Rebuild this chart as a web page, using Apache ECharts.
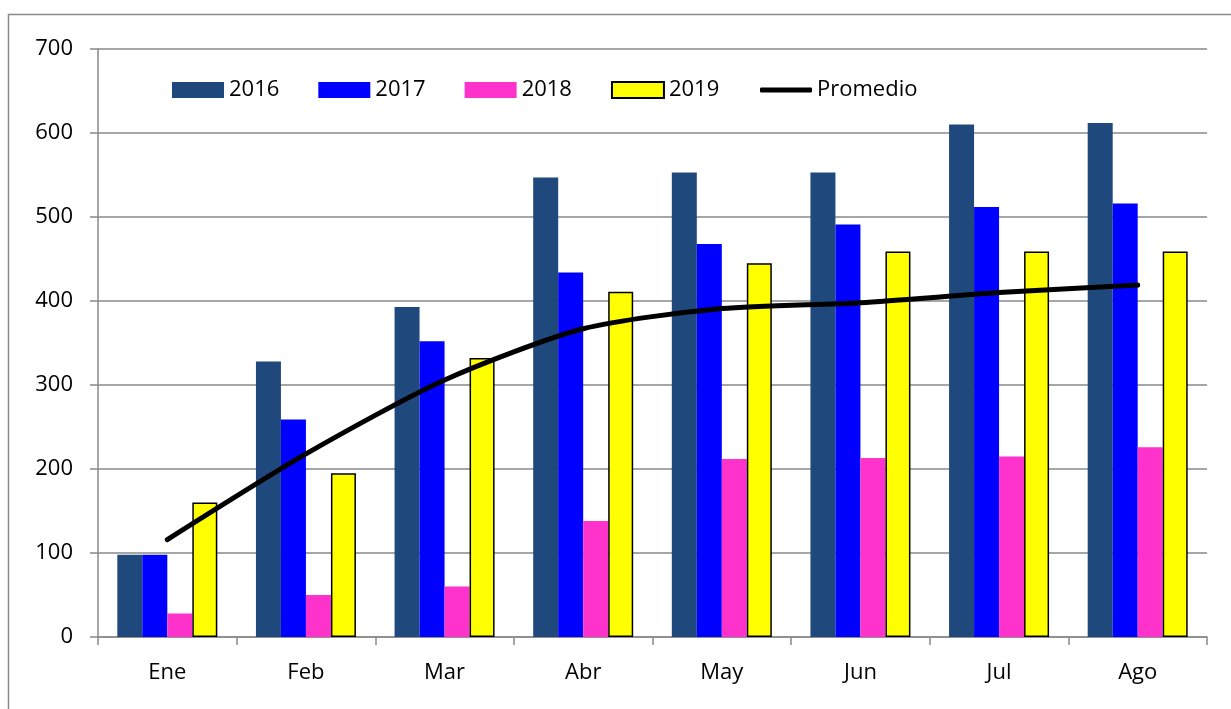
<!DOCTYPE html>
<html>
<head>
<meta charset="utf-8">
<script src="https://cdn.jsdelivr.net/npm/echarts@6/dist/echarts.min.js"></script>
<style>
html,body{margin:0;padding:0;background:#fff;}
#chart{width:1231px;height:709px;}
</style>
</head>
<body>
<div id="chart"></div>
<script>
const categories = ['Ene', 'Feb', 'Mar', 'Abr', 'May', 'Jun', 'Jul', 'Ago'];
const yTicks = [0, 100, 200, 300, 400, 500, 600, 700];
const s2016 = [98, 328, 393, 547, 553, 553, 610, 612];
const s2017 = [98, 259, 352, 434, 468, 491, 512, 516];
const s2018 = [28, 50, 60, 138, 212, 213, 215, 226];
const s2019 = [160, 195, 332, 411, 445, 459, 459, 459];
const promedio = [116, 218, 306, 367, 391, 398, 410, 419];

const FONT = '"Open Sans", "Noto Sans", sans-serif';
const chart = echarts.init(document.getElementById('chart'), null, {renderer: 'canvas'});
const gray = '#898989';

function bar(name, data, color, extra) {
  return Object.assign({
    name: name, type: 'bar', data: data, barWidth: 25, barGap: '0%',
    itemStyle: {color: color}
  }, extra || {});
}

const legendText = {fontFamily: FONT, fontSize: 22, color: '#000'};

chart.setOption({
  animation: false,
  backgroundColor: '#fff',
  textStyle: {fontFamily: FONT, color: '#000'},
  graphic: [{
    type: 'rect', shape: {x: 8.5, y: 14.5, width: 1240, height: 720},
    style: {fill: 'none', stroke: gray, lineWidth: 1.5}, silent: true, z: -10
  }],
  grid: {left: 98, right: 24, top: 49, bottom: 72, containLabel: false},
  legend: [{
    left: 167, top: 74, itemWidth: 52, itemHeight: 16, itemGap: 39,
    icon: 'rect',
    textStyle: legendText,
    data: ['2016', '2017', '2018', '2019']
  }, {
    left: 755, top: 74, itemWidth: 52, itemHeight: 5, itemGap: 0,
    icon: 'roundRect',
    textStyle: legendText,
    data: ['Promedio']
  }],
  xAxis: {
    type: 'category', data: categories, boundaryGap: true,
    axisLine: {lineStyle: {color: gray, width: 1.5}},
    axisTick: {show: true, length: 8, alignWithLabel: false, lineStyle: {color: gray, width: 1.5}},
    axisLabel: {fontFamily: FONT, fontSize: 22, color: '#000', margin: 25}
  },
  yAxis: {
    type: 'value', min: yTicks[0], max: yTicks[yTicks.length - 1], interval: 100,
    axisLine: {show: true, lineStyle: {color: gray, width: 1.5}},
    axisTick: {show: true, length: 8, lineStyle: {color: gray, width: 1.5}},
    axisLabel: {fontFamily: FONT, fontSize: 22, color: '#000', margin: 25},
    splitLine: {show: true, lineStyle: {color: gray, width: 1.5}}
  },
  series: [
    bar('2016', s2016, '#1F497D'),
    bar('2017', s2017, '#0000FF'),
    bar('2018', s2018, '#FF33CC'),
    bar('2019', s2019, '#FFFF00', {itemStyle: {color: '#FFFF00', borderColor: '#000', borderWidth: 1.5}}),
    {
      name: 'Promedio', type: 'line', data: promedio, smooth: 0.25,
      symbol: 'none', z: 5,
      lineStyle: {color: '#000', width: 5, cap: 'round', join: 'round'},
      itemStyle: {color: '#000'}
    }
  ]
});
</script>
</body>
</html>
